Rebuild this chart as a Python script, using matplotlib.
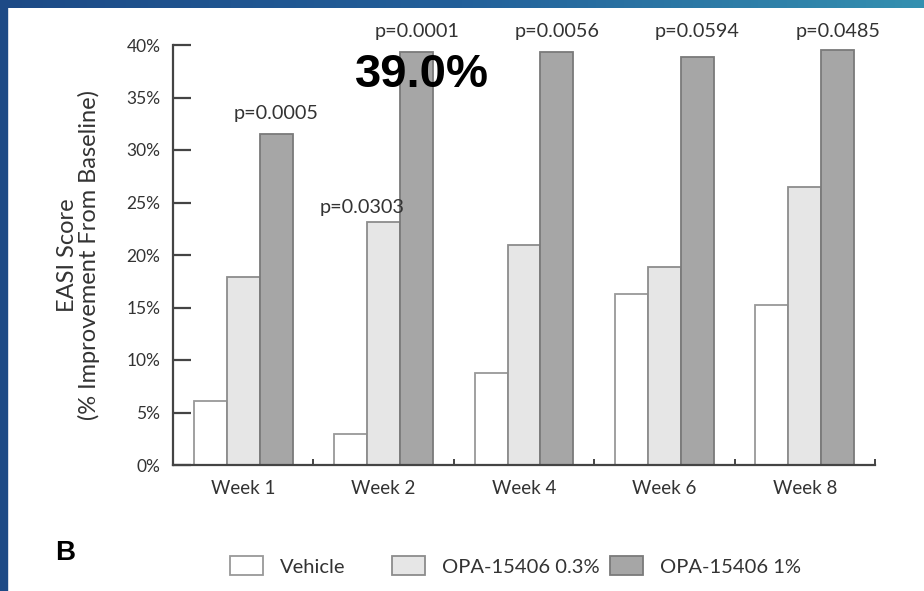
import numpy as np
import matplotlib
matplotlib.use('Agg')
import matplotlib.pyplot as plt
from matplotlib.colors import LinearSegmentedColormap
from matplotlib.patches import Rectangle

# values (% improvement from baseline)
weeks = ['Week 1', 'Week 2', 'Week 4', 'Week 6', 'Week 8']
series_names = ['Vehicle', 'OPA-15406 0.3%', 'OPA-15406 1%']
vehicle = [6.1, 3.0, 8.8, 16.3, 15.2]
opa_03 = [17.9, 23.1, 21.0, 18.9, 26.5]
opa_1 = [31.5, 39.3, 39.3, 38.9, 39.5]

# p-value labels: which week / which series they sit on
p_labels = ['p=0.0005', 'p=0.0303', 'p=0.0001', 'p=0.0056', 'p=0.0594', 'p=0.0485']
p_week = [0, 1, 1, 2, 3, 4]
p_series = [2, 1, 2, 2, 2, 2]

callout = '39.0%'

face_cols = ['#ffffff', '#e6e6e6', '#a6a6a6']
edge_cols = ['#999999', '#8c8c8c', '#7a7a7a']
txt_col = '#333333'
plt.rcParams['font.family'] = ['Lato', 'DejaVu Sans']

fig = plt.figure(figsize=(9.24, 5.91), dpi=100)
fig.patch.set_facecolor('white')

ax = fig.add_axes([173/924, 126/591, 702/924, 420/591])
x = np.arange(len(weeks)) + 0.5
w = 0.235
data = [vehicle, opa_03, opa_1]
bars = []
for i, vals in enumerate(data):
    b = ax.bar(x + (i - 1) * w, vals, w, color=face_cols[i], edgecolor=edge_cols[i],
               linewidth=1.3, label=series_names[i], zorder=2)
    bars.append(b)

ax.set_xlim(0, len(weeks))
ax.set_ylim(0, 40)
ax.set_yticks(np.arange(0, 41, 5))
ax.set_yticklabels(['%d%%' % v for v in range(0, 41, 5)], color=txt_col, fontsize=12.5)
ax.tick_params(axis='y', which='major', direction='in', length=13, width=1.6,
               color='#444444', pad=9)
ax.set_xticks(np.arange(0, len(weeks) + 1))
ax.set_xticklabels([])
ax.set_xticks(x, minor=True)
ax.set_xticklabels(weeks, minor=True, color=txt_col, fontsize=13.5)
ax.tick_params(axis='x', which='major', direction='in', length=4, width=1.4, color='#444444')
ax.tick_params(axis='x', which='minor', length=0, pad=11)
for s in ['top', 'right']:
    ax.spines[s].set_visible(False)
for s in ['left', 'bottom']:
    ax.spines[s].set_color('#444444')
    ax.spines[s].set_linewidth(1.6)

ax.set_ylabel('EASI Score\n(% Improvement From Baseline)', color=txt_col, fontsize=17,
              linespacing=0.98, labelpad=19)

# p-value labels
for lab, wk, si in zip(p_labels, p_week, p_series):
    top = data[si][wk]
    xp = x[wk] + (si - 1) * w
    if si == 1:
        xp -= 0.15
        yp = top + 1.4
    elif top + 2 > 40:
        yp = 41.3
    else:
        yp = top + 2.0
    ax.text(xp, yp, lab, ha='center', va='center', fontsize=14.3, color=txt_col, clip_on=False)

ax.text(x[1] + 0.27, 37.1, callout, ha='center', va='center', fontsize=34,
        fontweight='bold', family='Liberation Sans', color='black', zorder=5)

fig.text(65/924, 1 - 553/591, 'B', ha='center', va='center', fontsize=20,
         fontweight='bold', family='Liberation Sans', color='black')

# legend: one entry per box so each sits where it does in the picture
leg_x = [230, 392, 610]
for b, name, lx in zip(bars, series_names, leg_x):
    lg = fig.legend(handles=[b], labels=[name], loc='center left',
                    bbox_to_anchor=(lx/924, 25/591), frameon=False, fontsize=14.5,
                    borderaxespad=0, borderpad=0, handlelength=1.64, handleheight=1.05,
                    handletextpad=0.85, labelcolor=txt_col)

# blue slide frame (left strip + gradient top strip)
fig.patches.append(Rectangle((0, 0), 7/924, 1, transform=fig.transFigure,
                             color='#1d4a86', zorder=10))
bar_ax = fig.add_axes([0, 1 - 8/591, 1, 8/591])
cmap = LinearSegmentedColormap.from_list('frame', ['#1d4a86', '#23609a', '#3490b0'])
bar_ax.imshow(np.linspace(0, 1, 256)[None, :], aspect='auto', cmap=cmap,
              extent=[0, 1, 0, 1])
bar_ax.axis('off')

fig.savefig('out.png', dpi=100)
